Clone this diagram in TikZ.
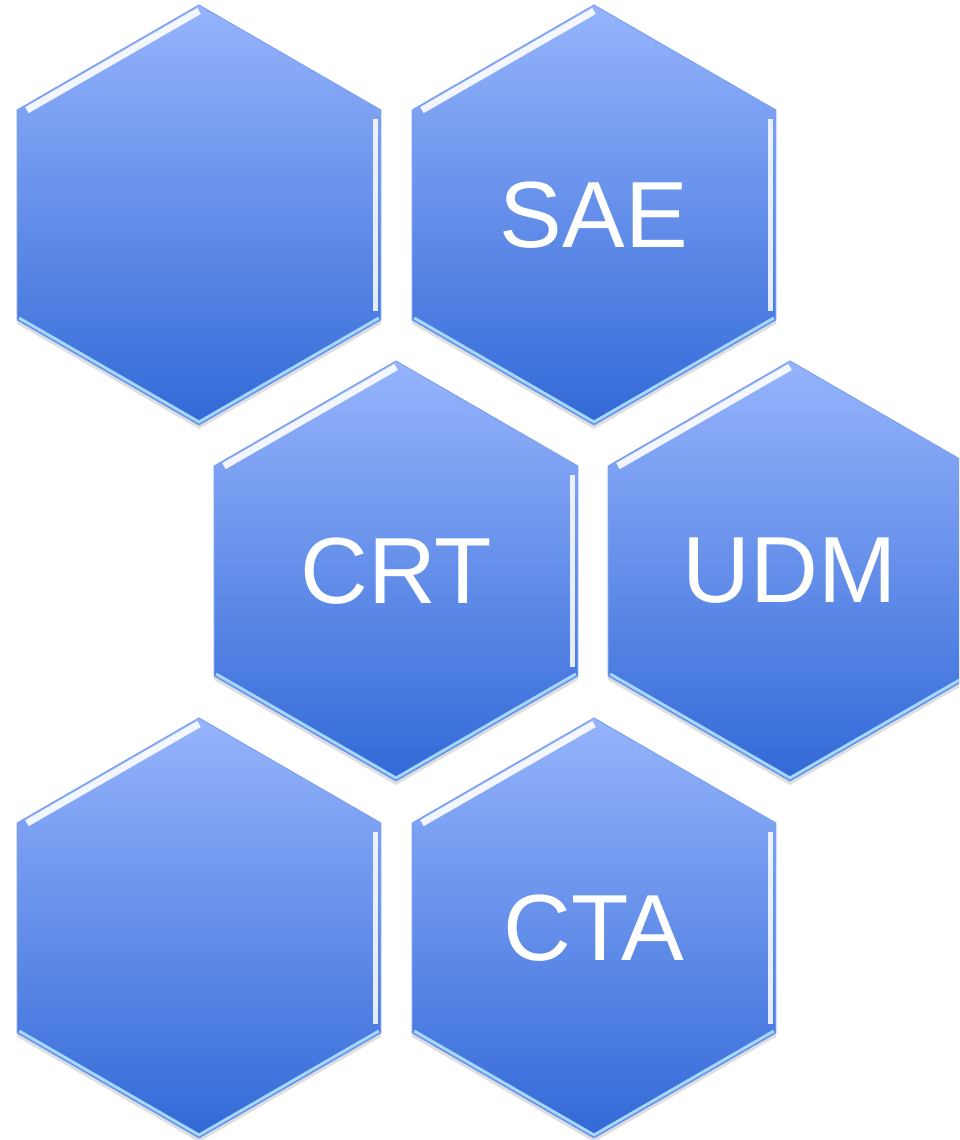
\documentclass[tikz,border=0pt]{standalone}
\usepackage{fontspec}
\setmainfont{Liberation Sans}
\usetikzlibrary{
	shapes.geometric,
	calc,
	shadows
}
\definecolor{hextop}{RGB}{150,180,252}
\definecolor{hexbot}{RGB}{50,105,215}
\definecolor{hexedge}{RGB}{125,160,240}
\definecolor{hexglow}{RGB}{165,215,255}
\tikzset{
  % hexagon
	csthex/.style   ={regular polygon, regular polygon sides=6, regular polygon rotate=30,
	                  minimum size=210pt, inner sep=0pt, outer sep=0pt,
	                  top color=hextop, bottom color=hexbot,
	                  draw=hexedge, line width=.5pt, text=white, font=\fontsize{47}{56}\selectfont,
	                  drop shadow={shadow xshift=0pt, shadow yshift=-2pt, opacity=.25}},
  % edges
	cstshine/.style ={white, line width=3.5pt, opacity=.9},
	cstside/.style  ={white, line width=2.5pt, opacity=.85},
	cstglow/.style  ={hexglow, line width=1.5pt}
}
\begin{document}
\begin{tikzpicture}[x=0.5pt,y=-0.5pt]
	\clip (0,0) rectangle (959,1140);
	\foreach \name/\x/\y/\txt in {hexa/199/215/, hexsae/594/215/SAE, hexcrt/396/571/CRT,
	                             hexudm/790/571/UDM, hexb/199/928/, hexcta/594/928/CTA}{
		\node[csthex] (\name) at (\x,\y) {\txt};
		% bevel on the upper left side
		\draw[cstshine] ($(\name.150)!.04!(\name.90)+(2.5,4.3)$) -- ($(\name.90)+(0,6)$);
		% bevel on the right side
		\draw[cstside] ($(\name.30)+(-5,9)$) -- ($(\name.330)+(-5,-9)$);
		% light on the lower sides
		\draw[cstglow] ($(\name.210)+(2,-2)$) -- ($(\name.270)+(0,-3)$) -- ($(\name.330)+(-2,-2)$);
	}
\end{tikzpicture}
\end{document}
